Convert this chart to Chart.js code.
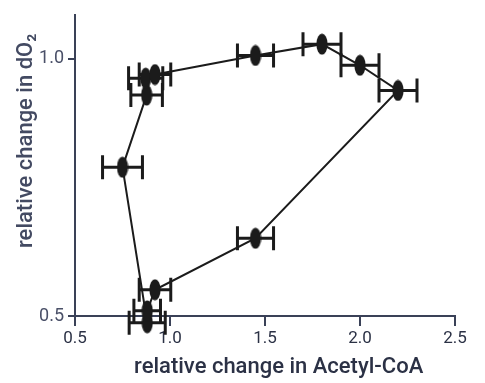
<!DOCTYPE html>
<html>
<head>
<meta charset="utf-8">
<script src="https://cdn.jsdelivr.net/npm/chart.js@4"></script>
<style>
  html, body { margin: 0; padding: 0; background: #fff; }
  #wrap { width: 485px; height: 383px; }
</style>
</head>
<body>
<div id="wrap"><canvas id="myChart"></canvas></div>
<script>
// acetyl-CoA vs dO2, loop in time order
const acetylCoA = [0.88, 0.75, 0.877, 0.872, 0.921, 1.45, 1.80, 2.0, 2.2, 1.45, 0.921, 0.88];
const dO2       = [0.487, 0.789, 0.929, 0.962, 0.969, 1.006, 1.028, 0.987, 0.938, 0.651, 0.551, 0.51];
const acetylErr = [0.095, 0.105, 0.083, 0.09, 0.083, 0.095, 0.1, 0.1, 0.1, 0.095, 0.083, 0.07];

const xTicks = [0.5, 1.0, 1.5, 2.0, 2.5];
const yTicks = [0.5, 1.0];

const axisColor = '#3a4157';
const markColor = '#1b1b1b';

// ellipse marker
const marker = document.createElement('canvas');
marker.width = 12;
marker.height = 22;
const mctx = marker.getContext('2d');
mctx.fillStyle = markColor;
mctx.beginPath();
mctx.ellipse(6, 11, 5.6, 10.6, 0, 0, Math.PI * 2);
mctx.fill();

const points = acetylCoA.map((x, i) => ({ x: x, y: dO2[i] }));

// horizontal error bars, drawn through the scales
const errorBars = {
  id: 'errorBars',
  beforeDatasetsDraw(chart) {
    const ctx = chart.ctx;
    const xs = chart.scales.x, ys = chart.scales.y;
    ctx.save();
    ctx.strokeStyle = markColor;
    ctx.lineWidth = 3;
    ctx.lineCap = 'butt';
    acetylCoA.forEach((x, i) => {
      const y = ys.getPixelForValue(dO2[i]);
      const x0 = xs.getPixelForValue(x - acetylErr[i]);
      const x1 = xs.getPixelForValue(x + acetylErr[i]);
      ctx.beginPath();
      ctx.moveTo(x0, y); ctx.lineTo(x1, y);
      ctx.moveTo(x0, y - 12); ctx.lineTo(x0, y + 12);
      ctx.moveTo(x1, y - 12); ctx.lineTo(x1, y + 12);
      ctx.stroke();
    });
    ctx.restore();
  }
};

Chart.defaults.font.family = 'Roboto, "Noto Sans", sans-serif';

new Chart(document.getElementById('myChart'), {
  type: 'scatter',
  data: {
    datasets: [{
      data: points,
      showLine: true,
      borderColor: markColor,
      borderWidth: 2,
      pointStyle: marker,
      pointRadius: 6,
      pointHoverRadius: 6,
      clip: false
    }]
  },
  options: {
    responsive: true,
    maintainAspectRatio: false,
    animation: false,
    layout: { padding: { top: 13, right: 30, left: 0, bottom: 0 } },
    plugins: { legend: { display: false }, tooltip: { enabled: false } },
    scales: {
      x: {
        type: 'linear',
        min: 0.5,
        max: 2.5,
        afterBuildTicks: s => { s.ticks = xTicks.map(v => ({ value: v })); },
        afterFit: s => { s.height = 67; },
        grid: { drawOnChartArea: false, drawTicks: true, tickLength: 10, color: axisColor, lineWidth: 2 },
        border: { display: true, color: axisColor, width: 2 },
        ticks: {
          padding: 3,
          color: '#2b3145',
          font: { size: 17 },
          maxRotation: 0,
          callback: v => v.toFixed(1)
        },
        title: {
          display: true,
          // leading spaces nudge the title right like the original
          text: '     relative change in Acetyl-CoA',
          color: '#2b3145',
          font: { size: 22, weight: '500' },
          padding: { top: 0, bottom: 2 }
        }
      },
      y: {
        type: 'linear',
        min: 0.5,
        max: 1.085,
        afterBuildTicks: s => { s.ticks = yTicks.map(v => ({ value: v })); },
        afterFit: s => { s.width = 75; },
        grid: { drawOnChartArea: false, drawTicks: true, tickLength: 7, color: axisColor, lineWidth: 2 },
        border: { display: true, color: axisColor, width: 2 },
        ticks: {
          padding: 4,
          color: '#4a5068',
          font: { size: 18 },
          callback: v => v.toFixed(1)
        },
        title: {
          display: true,
          text: '         relative change in dO₂',
          color: '#434a62',
          font: { size: 22, weight: '500' },
          padding: { top: 13, bottom: 0 }
        }
      }
    }
  },
  plugins: [errorBars]
});
</script>
</body>
</html>
